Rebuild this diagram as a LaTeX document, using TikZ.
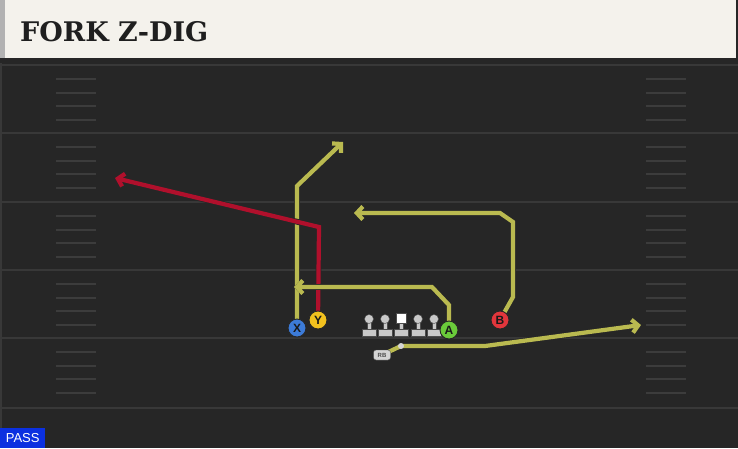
\documentclass[tikz,border=0pt]{standalone}
\usepackage{fontspec}
\newfontfamily\titlefont{DejaVu Serif}
\newfontfamily\tagfont{Liberation Sans}
\usetikzlibrary{arrows.meta}
\usetikzlibrary{positioning}
\definecolor{field}{HTML}{262626}
\definecolor{yardline}{HTML}{383838}
\definecolor{hashmark}{HTML}{3C3C3C}
\definecolor{header}{HTML}{F4F2EC}
\definecolor{routeyellow}{HTML}{BABA50}
\definecolor{routered}{HTML}{B0102C}
\definecolor{xblue}{HTML}{3C7BD8}
\definecolor{yyellow}{HTML}{F2C11E}
\definecolor{agreen}{HTML}{6ACB3A}
\definecolor{bred}{HTML}{E2363C}
\definecolor{linegray}{HTML}{C9C9C9}
\definecolor{passblue}{HTML}{0B30E0}
\pgfdeclarelayer{turf}
\pgfdeclarelayer{routes}
\pgfsetlayers{turf,routes,main}

\begin{document}
\begin{tikzpicture}[x=1pt,y=-1pt,
  player/.style={circle,draw=black!85,line width=0.9pt,minimum size=18pt,inner sep=0pt,
    font=\tagfont\bfseries\fontsize{12}{12}\selectfont,text=black!90},
  route/.style={line width=4.2pt,-{Straight Barb[length=6pt,width=13pt]},
    preaction={draw=black!85,line width=5.8pt}},
  yroute/.style={route,draw=routeyellow},
  rroute/.style={route,draw=routered},
  olhead/.style={circle,fill=linegray,draw=black!70,line width=0.4pt,minimum size=9pt,inner sep=0pt}]
\useasboundingbox (0,0) rectangle (738,448);
%field
\begin{pgfonlayer}{turf}
\fill[field] (0,0) rectangle (738,448);
\fill[black!85] (0,58) rectangle (738,63);
\fill[yardline] (0,63) rectangle (2,448);
\foreach\y in {65,133,202,270,338,408}{
  \draw[yardline,line width=2pt] (2,\y) -- (738,\y);}
\foreach\y in {65,133,202,270,338}{
  \foreach\d in {14,28,41,55}{
    \draw[hashmark,line width=1.6pt] (56,\y+\d) -- (96,\y+\d);
    \draw[hashmark,line width=1.6pt] (646,\y+\d) -- (686,\y+\d);}}
\end{pgfonlayer}

%header
\fill[header] (0,0) rectangle (736,58);
\fill[black!30] (0,0) rectangle (5,58);
\node[anchor=west,inner sep=0pt,text=black!88,font=\titlefont\bfseries\fontsize{27}{27}\selectfont] (title) at (20,32) {FORK Z-DIG};

%pass tag
\node[fill=passblue,text=white,anchor=south west,minimum width=45pt,minimum height=20pt,inner sep=0pt,
  font=\tagfont\fontsize{13}{13}\selectfont] (pass) at (0,448) {PASS};

%line
\foreach\x in {369,385,418,434}{
  \fill[linegray,draw=black!70,line width=0.4pt] (\x-2,320) rectangle (\x+2,330);
  \fill[linegray,draw=black!70,line width=0.4pt] (\x-7,329) rectangle (\x+7,336);
  \node[olhead] (ol\x) at (\x,319) {};}
\fill[linegray,draw=black!70,line width=0.4pt] (399,320) rectangle (403,330);
\fill[linegray,draw=black!70,line width=0.4pt] (394,329) rectangle (408,336);
\node[fill=white,draw=black!70,line width=0.4pt,minimum size=10pt,inner sep=0pt] (C) at (401,318) {};

%players
\node[player,fill=xblue] (X) at (297,328) {X};
\node[player,fill=yyellow] (Y) at (318,320) {Y};
\node[player,fill=agreen] (A) at (449,330) {A};
\node[player,fill=bred] (B) at (500,320) {B};
\node[draw=black!70,fill=linegray!80,rounded corners=2.5pt,minimum width=17pt,minimum height=10pt,inner sep=0pt,
  font=\tagfont\bfseries\fontsize{6}{6}\selectfont,text=black!70] (RB) at (382,355) {RB};

%route points
\coordinate (xbreak) at (297,186);
\coordinate (xend) at (343,142);
\coordinate (ybreak) at (319,227);
\coordinate (yend) at (115,178);
\coordinate (abreak1) at (449,305);
\coordinate (abreak2) at (432,287);
\coordinate (aend) at (294,287);
\coordinate (bbreak1) at (513,297);
\coordinate (bbreak2) at (513,222);
\coordinate (bbreak3) at (500,213);
\coordinate (bend) at (354,213);
\coordinate (rbknob) at (401,346);
\coordinate (rbbreak) at (485,346);
\coordinate (rbend) at (641,325);

%routes (under the players)
\begin{pgfonlayer}{routes}
\draw[yroute] (X.center) -- (xbreak) -- (xend);
\draw[rroute] (Y.center) -- (ybreak) -- (yend);
\draw[yroute] (A.center) -- (abreak1) -- (abreak2) -- (aend);
\draw[yroute] (B.center) -- (bbreak1) -- (bbreak2) -- (bbreak3) -- (bend);
\draw[yroute] (RB.center) -- (rbknob) -- (rbbreak) -- (rbend);
\fill[linegray!75] (rbknob) circle (3pt);
\end{pgfonlayer}
\end{tikzpicture}
\end{document}
